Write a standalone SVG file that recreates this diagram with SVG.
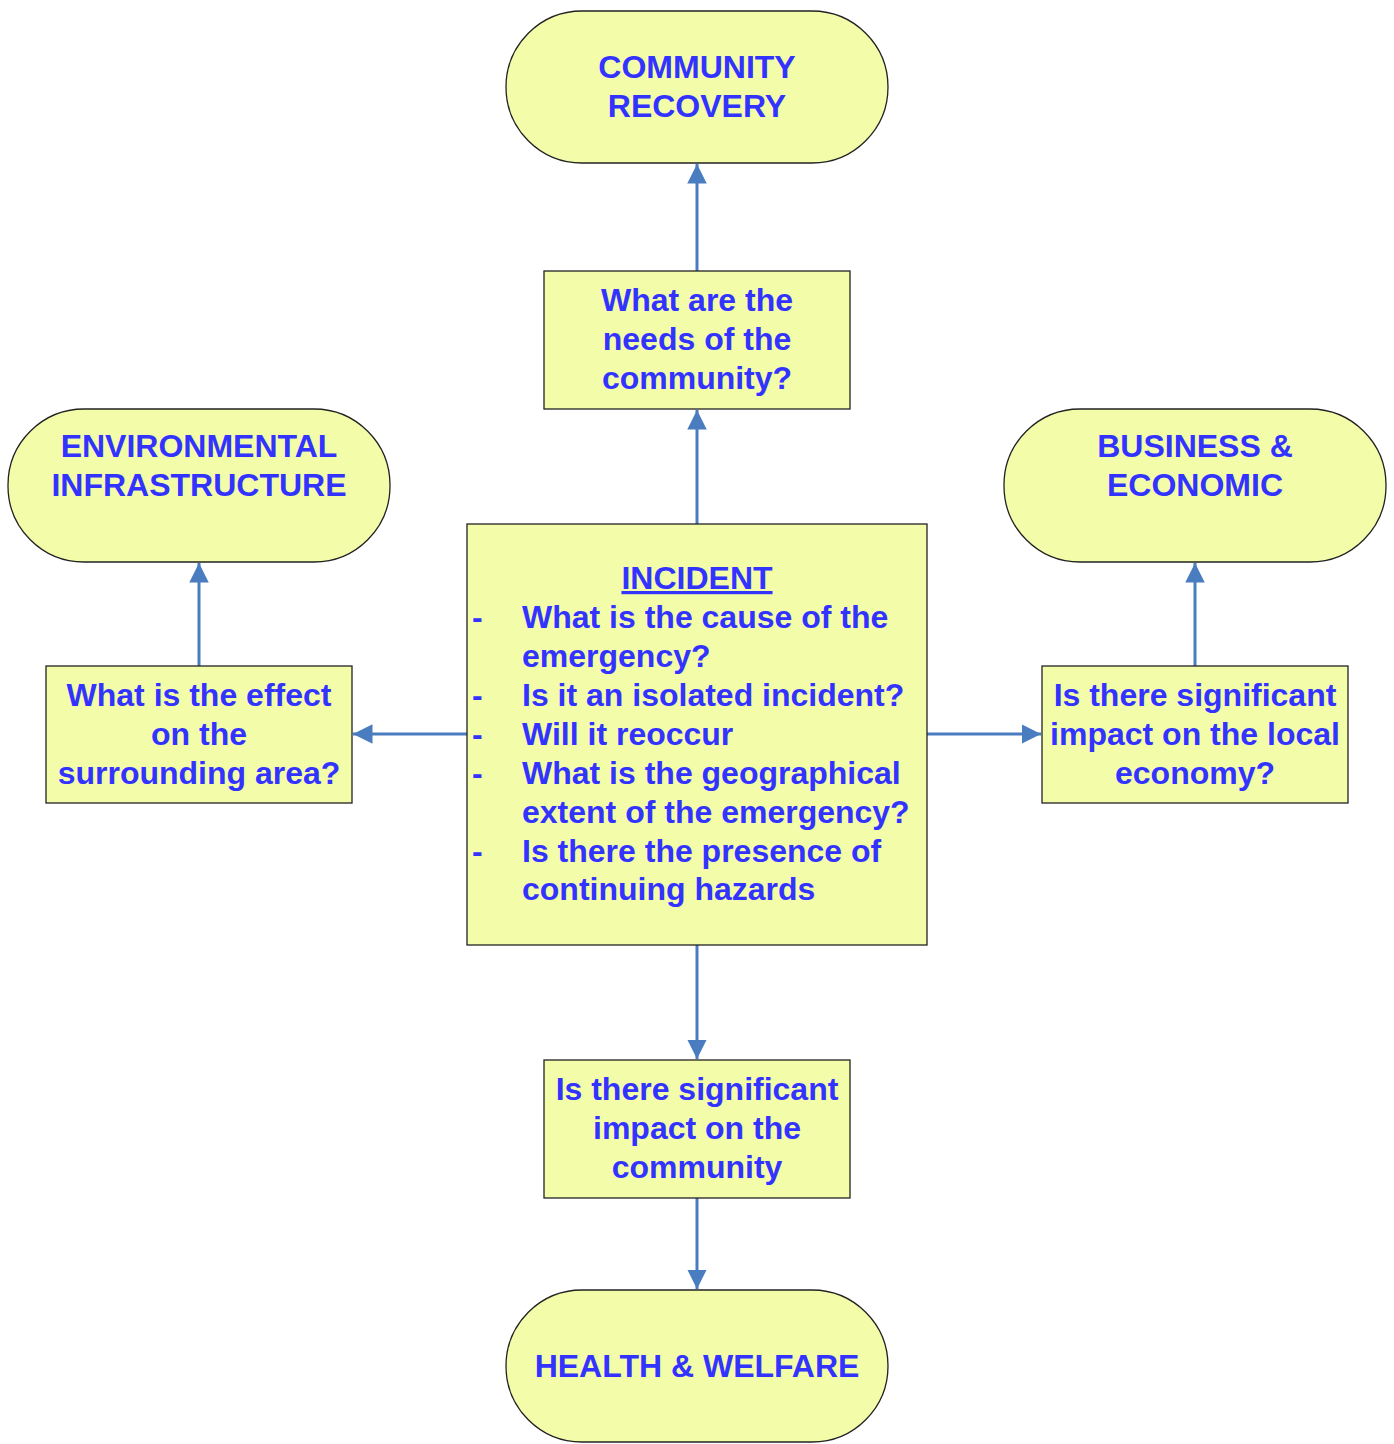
<svg xmlns="http://www.w3.org/2000/svg" width="1394" height="1444" viewBox="0 0 1394 1444">
<style>
.n{fill:#F3FCA9;stroke:#222;stroke-width:1.3}
.t{font-family:"Liberation Sans",Arial,sans-serif;font-weight:bold;font-size:32px;fill:#3333FF}
.c{text-anchor:middle}
.e{stroke:#4A7CC0;stroke-width:3;fill:none;marker-end:url(#ah)}
</style>
<defs>
<marker id="ah" viewBox="0 0 10 10" refX="10" refY="5" markerWidth="6.5" markerHeight="6.7" markerUnits="strokeWidth" orient="auto">
<path d="M0,0 L10,5 L0,10 z" fill="#4A7CC0"/>
</marker>
</defs>
<rect width="1394" height="1444" fill="#fff"/>
<g id="edges">
<path class="e" d="M697,271 V164"/>
<path class="e" d="M697,524 V410"/>
<path class="e" d="M199,666 V563"/>
<path class="e" d="M467,734 H353"/>
<path class="e" d="M927,734 H1041"/>
<path class="e" d="M1195,666 V563"/>
<path class="e" d="M697,945 V1059"/>
<path class="e" d="M697,1198 V1289"/>
</g>
<g id="community-recovery">
<rect class="n" x="506" y="11" width="382" height="152" rx="76"/>
<text class="t c" x="697" y="78">COMMUNITY</text>
<text class="t c" x="697" y="117">RECOVERY</text>
</g>
<g id="environmental">
<rect class="n" x="8" y="409" width="382" height="153" rx="76"/>
<text class="t c" x="199" y="457">ENVIRONMENTAL</text>
<text class="t c" x="199" y="496">INFRASTRUCTURE</text>
</g>
<g id="business">
<rect class="n" x="1004" y="409" width="382" height="153" rx="76"/>
<text class="t c" x="1195" y="457">BUSINESS &amp;</text>
<text class="t c" x="1195" y="496">ECONOMIC</text>
</g>
<g id="health">
<rect class="n" x="506" y="1290" width="382" height="152" rx="76"/>
<text class="t c" x="697" y="1377">HEALTH &amp; WELFARE</text>
</g>
<g id="needs">
<rect class="n" x="544" y="271" width="306" height="138"/>
<text class="t c" x="697" y="311">What are the</text>
<text class="t c" x="697" y="350">needs of the</text>
<text class="t c" x="697" y="389">community?</text>
</g>
<g id="effect">
<rect class="n" x="46" y="666" width="306" height="137"/>
<text class="t c" x="199" y="706">What is the effect</text>
<text class="t c" x="199" y="745">on the</text>
<text class="t c" x="199" y="784">surrounding area?</text>
</g>
<g id="economy">
<rect class="n" x="1042" y="666" width="306" height="137"/>
<text class="t c" x="1195" y="706">Is there significant</text>
<text class="t c" x="1195" y="745">impact on the local</text>
<text class="t c" x="1195" y="784">economy?</text>
</g>
<g id="impact">
<rect class="n" x="544" y="1060" width="306" height="138"/>
<text class="t c" x="697" y="1100">Is there significant</text>
<text class="t c" x="697" y="1139">impact on the</text>
<text class="t c" x="697" y="1178">community</text>
</g>
<g id="incident">
<rect class="n" x="467" y="524" width="460" height="421"/>
<text class="t c" x="697" y="589" text-decoration="underline">INCIDENT</text>
<text class="t" x="472" y="628">-</text><text class="t" x="522" y="628">What is the cause of the</text>
<text class="t" x="522" y="667">emergency?</text>
<text class="t" x="472" y="706">-</text><text class="t" x="522" y="706">Is it an isolated incident?</text>
<text class="t" x="472" y="745">-</text><text class="t" x="522" y="745">Will it reoccur</text>
<text class="t" x="472" y="784">-</text><text class="t" x="522" y="784">What is the geographical</text>
<text class="t" x="522" y="823">extent of the emergency?</text>
<text class="t" x="472" y="862">-</text><text class="t" x="522" y="862">Is there the presence of</text>
<text class="t" x="522" y="900">continuing hazards</text>
</g>
</svg>
